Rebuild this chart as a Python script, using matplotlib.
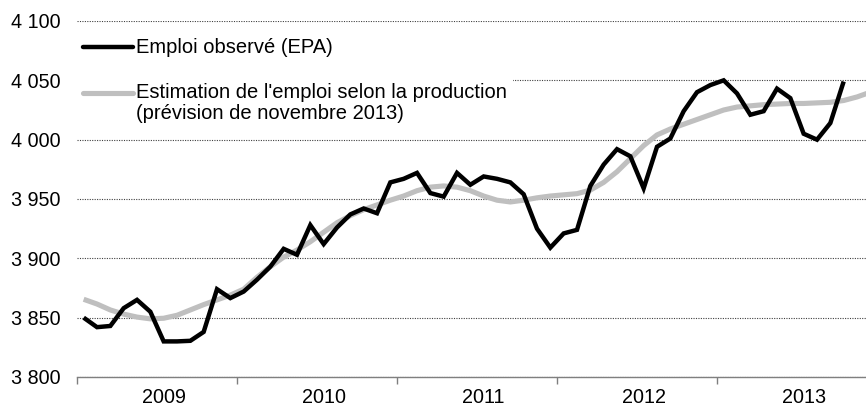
import matplotlib
matplotlib.use("Agg")
import matplotlib.pyplot as plt
from matplotlib.patches import Rectangle
from matplotlib.lines import Line2D

plt.rcParams['font.family'] = ['Liberation Sans', 'DejaVu Sans']

# ---- data (thousands of jobs, monthly, Jan 2009 onward) ----
years = ["2009", "2010", "2011", "2012", "2013"]
observed = [
    3850, 3842, 3843, 3858, 3865, 3855, 3830, 3830, 3830.5, 3838, 3874, 3866.5,
    3872, 3882, 3893, 3908, 3903, 3928, 3912, 3926, 3937, 3942, 3938, 3964,
    3967, 3972, 3955, 3952, 3972, 3962, 3969, 3967, 3964, 3954, 3925, 3909,
    3921, 3924, 3961, 3979, 3992, 3986, 3959, 3994, 4001, 4024, 4040, 4046,
    4050, 4039, 4021, 4024, 4043, 4035, 4005, 4000, 4014, 4049,
]
estimated = [
    3865.5, 3861.5, 3856.5, 3853, 3850.5, 3849, 3849.5, 3852, 3856.5, 3861, 3865, 3869,
    3874, 3884, 3893, 3901, 3907, 3914, 3922, 3930, 3936, 3941, 3945, 3949,
    3952.5, 3957, 3960, 3961, 3960, 3957, 3952.5, 3949, 3947.5, 3949, 3951, 3952.5,
    3953.5, 3954.5, 3957.5, 3964, 3973, 3984, 3995, 4004, 4009, 4013, 4017, 4021,
    4025, 4027.5, 4028.5, 4029.5, 4030, 4030.5, 4030.5, 4031, 4031.5, 4033, 4036, 4040,
]
yticks = [3800, 3850, 3900, 3950, 4000, 4050, 4100]
ytick_labels = ["3 800", "3 850", "3 900", "3 950", "4 000", "4 050", "4 100"]
label_observed = "Emploi observé (EPA)"
label_estimated_1 = "Estimation de l'emploi selon la production"
label_estimated_2 = "(prévision de novembre 2013)"

# ---- figure ----
W, H = 866, 409
fig = plt.figure(figsize=(W / 100, H / 100), dpi=100)
ax = fig.add_axes([77 / W, 1 - 377 / H, (W - 77) / W, (377 - 21) / H])

BLACK = "#000000"
GREY = "#bfbfbf"

x_obs = list(range(len(observed)))
x_est = list(range(len(estimated)))
ax.plot(x_est, estimated, color=GREY, lw=3.7, solid_capstyle="butt",
        solid_joinstyle="round", zorder=3)
ax.plot(x_obs, observed, color=BLACK, lw=3.2, solid_capstyle="butt",
        solid_joinstyle="miter", zorder=4)

ax.set_ylim(3800, 4100)
ax.set_xlim(-0.5, 58.675)

ax.set_yticks(yticks, ytick_labels)
ax.tick_params(axis="y", length=0, pad=12, labelsize=14.2, colors="#000000")
ax.yaxis.grid(True, color="#404040", lw=0.8, linestyle=(0, (1, 1.2)))
ax.set_axisbelow(True)

# year boundaries as major ticks, year labels at mid-year as minor ticks
n_years = len(years)
ax.set_xticks([12 * i - 0.5 for i in range(n_years)])
ax.set_xticklabels([])
ax.set_xticks([12 * i + 6 for i in range(n_years)], minor=True)
ax.set_xticklabels(years, minor=True)
ax.tick_params(axis="x", which="major", length=5, width=1, color="#7f7f7f", direction="out")
ax.tick_params(axis="x", which="minor", length=0, pad=8, labelsize=14.2)

for s in ("left", "right", "top"):
    ax.spines[s].set_visible(False)
ax.spines["bottom"].set_color("#7f7f7f")
ax.spines["bottom"].set_linewidth(1)

# ---- legend (drawn manually, on white background) ----
def ay(ypix):
    return (377 - ypix) / 356

def axx(xpix):
    return (xpix - 77) / 789

ax.add_patch(Rectangle((0, ay(132)), axx(513), ay(28) - ay(132), transform=ax.transAxes,
                       facecolor="white", edgecolor="none", zorder=2))
ax.add_line(Line2D([axx(83), axx(133)], [ay(47), ay(47)], transform=ax.transAxes,
                   color=BLACK, lw=3.2, solid_capstyle="round", zorder=5))
ax.add_line(Line2D([axx(83), axx(133)], [ay(92.5), ay(92.5)], transform=ax.transAxes,
                   color=GREY, lw=3.7, solid_capstyle="round", zorder=5))
ax.text(axx(136), ay(53.3), label_observed, transform=ax.transAxes, fontsize=14.5,
        va="baseline", ha="left", zorder=6)
ax.text(axx(136), ay(98.3), label_estimated_1, transform=ax.transAxes, fontsize=14.5,
        va="baseline", ha="left", zorder=6)
ax.text(axx(136), ay(119.3), label_estimated_2, transform=ax.transAxes, fontsize=14.5,
        va="baseline", ha="left", zorder=6)

fig.savefig("out.png", dpi=100)
